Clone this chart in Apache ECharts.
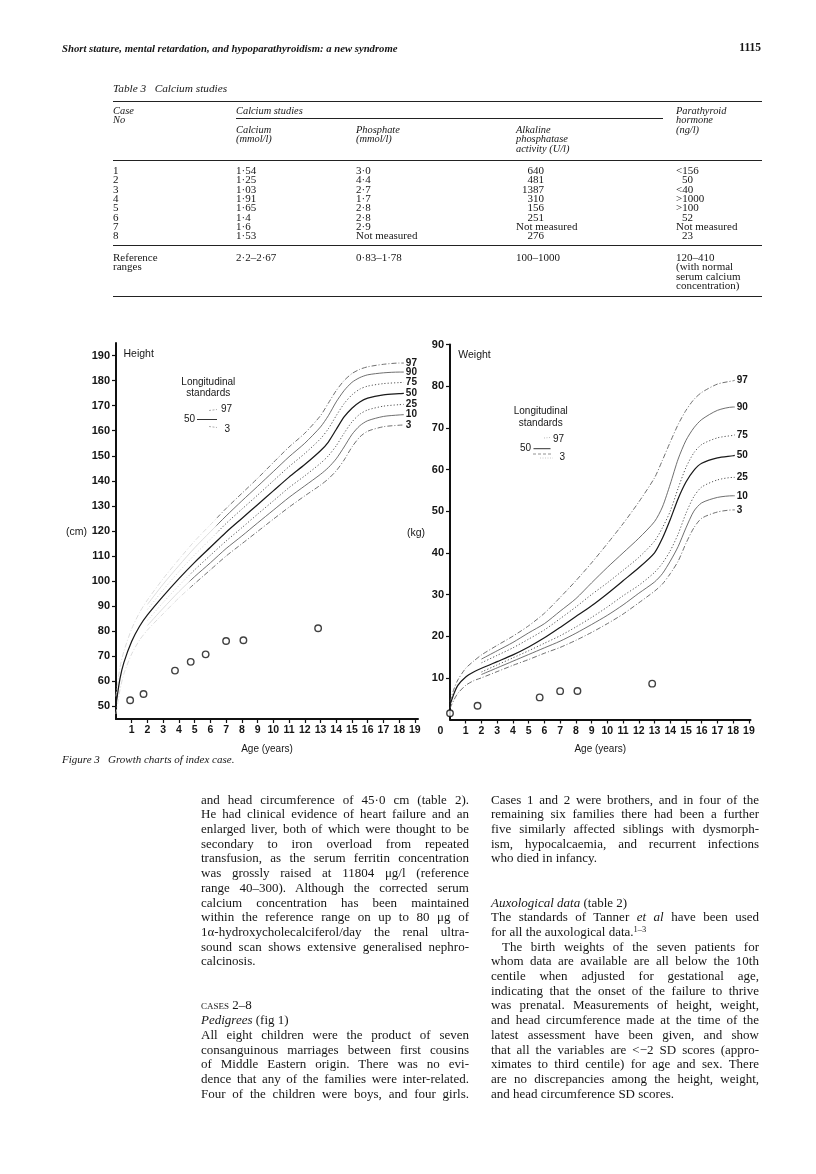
<!DOCTYPE html>
<html><head><meta charset="utf-8"><title>Growth charts of index case</title>
<script src="https://cdn.jsdelivr.net/npm/echarts@6.0.0/dist/echarts.min.js"></script>
<style>
html,body{margin:0;padding:0;background:#fff;}
#page{position:relative;width:816px;height:1174px;overflow:hidden;background:#fff;color:#161616;font-family:"Liberation Serif","Times New Roman",serif;}
#chart{position:absolute;left:0;top:0;width:816px;height:1174px;}
.ln{position:absolute;white-space:nowrap;}
.t{position:absolute;white-space:nowrap;line-height:1;transform:translateY(-50%);}
.rule{position:absolute;height:0;border-top:1px solid #222;}
.sc{font-variant:small-caps;}
sup{font-size:65%;vertical-align:0;position:relative;top:-0.5em;}
</style></head>
<body><div id="page"><div id="chart"></div></div>
<script>
// ---------------- chart data ----------------
const centiles = ['97','90','75','50','25','10','3'];
const heightAges = [0,0.25,0.5,1,1.5,2,3,4,5,6,7,8,9,10,11,12,13,13.5,14,14.5,15,15.5,16,17,18,18.3];
const height97 = [54,65.5,72,81,87.5,92.5,101,108.7,116,122.5,129,135,141,147.3,153.5,159,166,171,176,180,182.8,184.5,185.5,186.5,187,187];
const height90 = [null,null,null,null,null,90.7,98.8,106.2,113.3,119.7,126,132,137.8,143.7,149.6,155,161.5,166,171.5,176,179.3,181.2,182.3,183.1,183.4,183.4];
const height75 = [null,null,null,null,null,88.7,96.5,103.8,110.5,116.7,123,128.7,134.3,140,145.7,150.9,156.8,160.8,166,170.8,174.3,176.6,177.8,178.8,179.2,179.3];
const height50 = [50.5,61,67.5,76,82,86.5,94,101,107.5,113.5,119.5,125,130.5,136,141.5,146.5,152,155.5,160.5,165.5,169,171.5,173,174.3,174.8,174.9];
const height25 = [null,null,null,null,null,84.3,91.5,98.2,104.5,110.3,116,121.3,126.7,132,137.3,142,147,150,154,159,163.5,166.6,168.3,169.8,170.4,170.5];
const height10 = [null,null,null,null,null,82.3,89.2,95.8,101.8,107.3,113,118,123.2,128.3,133.4,138,142.6,145.3,148.8,153.5,158.5,162,164,165.7,166.3,166.4];
const height3 = [47,56.5,63,71,76.5,80.5,87,93.3,99,104.5,110,114.9,119.8,124.7,129.5,134,138.3,140.8,144,148.3,153.5,157.5,159.8,161.6,162.2,162.3];

const weightAges = [0,0.25,0.5,1,1.5,2,3,4,5,6,7,8,9,10,11,12,13,13.5,14,14.5,15,15.5,16,17,18,18.1];
const weight97 = [4.3,7.3,9.5,12.3,14,15.5,17.8,20,22.5,25.5,29.3,33.3,37.6,42.2,47,52.2,58,62.2,66.6,70.8,74.2,76.8,78.5,80.5,81.3,81.4];
const weight90 = [null,null,null,null,null,14.5,16.5,18.5,20.8,23,26,29,32.8,36.5,40,43.5,47.5,51,56.5,62.5,67,70,72,74.2,75,75];
const weight75 = [null,null,null,null,null,13.6,15.4,17.2,19.3,21.5,24.2,27,30,32.8,35.8,38.9,42.8,46,50,55.5,60.5,64,66,67.6,68.2,68.3];
const weight50 = [3.5,6.2,8.2,10.2,11.4,12.3,13.9,15.5,17.4,19.6,22.1,24.7,27.3,30.2,33.3,36.4,40,43.5,48,53,57,59.8,61.5,62.8,63.3,63.4];
const weight25 = [null,null,null,null,null,11.4,13.1,14.8,16.5,18.3,20.1,22.2,24.5,27,29.7,32.2,35.3,37.5,40.5,44.5,49.5,53.5,55.8,57.5,58.1,58.1];
const weight10 = [null,null,null,null,null,10.8,12.4,14,15.6,17.2,18.8,20.7,22.8,25,27.5,30.3,33,35,38,41.5,46,50,52,53.3,53.7,53.7];
const weight3 = [2.7,4.7,6.3,8.2,9.3,10,11.5,13,14.4,15.9,17.3,19,20.9,23,25.3,28,30.8,32.5,35,38,42.3,46,48.3,49.8,50.3,50.3];

const patientHeightAges = [0.9,1.75,3.75,4.75,5.7,7.0,8.1,12.85];
const patientHeights = [52.5,55.0,64.3,67.8,70.8,76.1,76.4,81.2];
const patientWeightAges = [0,1.75,5.7,7.0,8.1,12.85];
const patientWeights = [1.5,3.3,5.3,6.8,6.85,8.6];

const heightTicks = [50,60,70,80,90,100,110,120,130,140,150,160,170,180,190];
const weightTicks = [10,20,30,40,50,60,70,80,90];
const ageTicks = [1,2,3,4,5,6,7,8,9,10,11,12,13,14,15,16,17,18,19];
const weightAgeLabels = [0,1,2,3,4,5,6,7,8,9,10,11,12,13,14,15,16,17,18,19];

// ---------------- table data ----------------
const caseNos = ['1','2','3','4','5','6','7','8'];
const calciumVals = ['1·54','1·25','1·03','1·91','1·65','1·4','1·6','1·53'];
const phosphateVals = ['3·0','4·4','2·7','1·7','2·8','2·8','2·9','Not measured'];
const alkalineVals = ['640','481','1387','310','156','251','Not measured','276'];
const pthVals = ['<156','50','<40','>1000','>100','52','Not measured','23'];
const referenceRanges = ['2·2–2·67','0·83–1·78','100–1000'];
const pthReference = ['120–410','(with normal','serum calcium','concentration)'];

// ---------------- body text ----------------
const leftLines = [
 ['and head circumference of 45·0 cm (table 2).',1],
 ['He had clinical evidence of heart failure and an',1],
 ['enlarged liver, both of which were thought to be',1],
 ['secondary to iron overload from repeated',1],
 ['transfusion, as the serum ferritin concentration',1],
 ['was grossly raised at 11804 μg/l (reference',1],
 ['range 40–300). Although the corrected serum',1],
 ['calcium concentration has been maintained',1],
 ['within the reference range on up to 80 μg of',1],
 ['1α-hydroxycholecalciferol/day the renal ultra-',1],
 ['sound scan shows extensive generalised nephro-',1],
 ['calcinosis.',0],
 null,null,
 ['<span class="sc">cases</span> 2–8',0],
 ['<i>Pedigrees</i> (fig 1)',0],
 ['All eight children were the product of seven',1],
 ['consanguinous marriages between first cousins',1],
 ['of Middle Eastern origin. There was no evi-',1],
 ['dence that any of the families were inter-related.',1],
 ['Four of the children were boys, and four girls.',1]
];
const rightLines = [
 ['Cases 1 and 2 were brothers, and in four of the',1],
 ['remaining six families there had been a further',1],
 ['five similarly affected siblings with dysmorph-',1],
 ['ism, hypocalcaemia, and recurrent infections',1],
 ['who died in infancy.',0],
 null,null,
 ['<i>Auxological data</i> (table 2)',0],
 ['The standards of Tanner <i>et al</i> have been used',1],
 ['for all the auxological data.<sup>1–3</sup>',0],
 ['The birth weights of the seven patients for',1,11],
 ['whom data are available are all below the 10th',1],
 ['centile when adjusted for gestational age,',1],
 ['indicating that the onset of the failure to thrive',1],
 ['was prenatal. Measurements of height, weight,',1],
 ['and head circumference made at the time of the',1],
 ['latest assessment have been given, and show',1],
 ['that all the variables are &lt;−2 SD scores (appro-',1],
 ['ximates to third centile) for age and sex. There',1],
 ['are no discrepancies among the height, weight,',1],
 ['and head circumference SD scores.',0]
];

const page = document.getElementById('page');
function txt(html, x, y, css, align){
  const d = document.createElement('div');
  d.className = 't';
  d.innerHTML = html;
  d.style.cssText = 'left:'+x+'px;top:'+y+'px;'+(css||'');
  if (align === 'right') d.style.transform = 'translate(-100%,-50%)';
  page.appendChild(d);
  return d;
}
function rule(x1, x2, y, w){
  const d = document.createElement('div');
  d.className = 'rule';
  d.style.cssText = 'left:'+x1+'px;width:'+(x2-x1)+'px;top:'+y+'px;border-top-width:'+(w||1)+'px;';
  page.appendChild(d);
}
function placeLines(lines, x, y0, w, lh, fs){
  lines.forEach((ln, i) => {
    if (!ln) return;
    const ind = ln[2] || 0;
    const d = document.createElement('div');
    d.className = 'ln';
    d.style.cssText = 'left:'+(x+ind)+'px;top:'+(y0+i*lh)+'px;font-size:'+fs+'px;line-height:'+lh+'px;';
    d.innerHTML = ln[0];
    page.appendChild(d);
    if (ln[1]) {
      const target = w - ind;
      const nat = d.getBoundingClientRect().width;
      const n = (d.textContent.match(/ /g) || []).length;
      if (nat < target && n > 0) d.style.wordSpacing = ((target - nat) / n) + 'px';
      else if (nat > target) { d.style.transformOrigin = '0 0'; d.style.transform = 'scaleX(' + (target / nat) + ')'; }
    }
  });
}

// header
txt('<i><b>Short stature, mental retardation, and hypoparathyroidism: a new syndrome</b></i>', 62, 47.5, 'font-size:10.7px;');
txt('1115', 761, 47.5, 'font-size:11.5px;font-weight:bold;', 'right');

// table
const TL = 113, TR = 762;
const cCase = 113, cCa = 236, cPh = 356, cAlk = 516, cAlkR = 544, cPth = 676;
const tfs = 'font-size:11px;';
const tfi = 'font-size:10.4px;font-style:italic;';
txt('<i>Table 3&nbsp;&nbsp; Calcium studies</i>', TL, 89, 'font-size:11.3px;');
rule(TL, TR, 100.5, 1.3);
txt('Case', cCase, 111, tfi); txt('No', cCase, 120, tfi);
txt('Calcium studies', cCa, 111, tfi);
rule(cCa, 663, 117.5, 0.8);
txt('Parathyroid', cPth, 111, tfi); txt('hormone', cPth, 120, tfi); txt('(ng/l)', cPth, 129.5, tfi);
txt('Calcium', cCa, 130, tfi); txt('(mmol/l)', cCa, 139, tfi);
txt('Phosphate', cPh, 130, tfi); txt('(mmol/l)', cPh, 139, tfi);
txt('Alkaline', cAlk, 130, tfi); txt('phosphatase', cAlk, 139, tfi); txt('activity (U/l)', cAlk, 148.5, tfi);
rule(TL, TR, 159.5, 1);
const rowY0 = 170, rowDy = 9.3;
caseNos.forEach((c, i) => {
  const y = rowY0 + i * rowDy;
  txt(c, cCase, y, tfs);
  txt(calciumVals[i], cCa, y, tfs);
  txt(phosphateVals[i], cPh, y, tfs);
  const a = alkalineVals[i];
  if (/^\d+$/.test(a)) txt(a, cAlkR, y, tfs, 'right'); else txt(a, cAlk, y, tfs);
  const p = pthVals[i];
  txt(p, /^\d+$/.test(p) ? cPth + 6 : cPth, y, tfs);
});
rule(TL, TR, 245, 1);
const refY = 256.5;
txt('Reference', cCase, refY, tfs); txt('ranges', cCase, refY + 9.5, tfs);
txt(referenceRanges[0], cCa, refY, tfs);
txt(referenceRanges[1], cPh, refY, tfs);
txt(referenceRanges[2], cAlk, refY, tfs);
pthReference.forEach((s, i) => txt(s, cPth, refY + i * 9.5, tfs));
rule(TL, TR, 296, 1.3);

// caption
txt('<i>Figure 3&nbsp;&nbsp; Growth charts of index case.</i>', 62, 759, 'font-size:11px;');

// body text
placeLines(leftLines, 201, 792.6, 268, 14.7, 13);
placeLines(rightLines, 491, 792.6, 268, 14.7, 13);

// ---------------- chart ----------------
function pairs(xs, ys){ const out = []; xs.forEach((x, i) => { if (ys[i] !== null) out.push([x, ys[i]]); }); return out; }
const SANS = '"Liberation Sans", Arial, Helvetica, sans-serif';
const INK = '#161616';
// faint early parts of the height centiles (the scan is pale there)
function fadeTo(colorDark, fadeAge){
  const x0 = 116, x1 = 418, f = fadeAge / 19.2;
  return {type:'linear', x:x0, y:0, x2:x1, y2:0, global:true, colorStops:[
    {offset:0, color:'#d6d6d6'}, {offset:f, color:'#d6d6d6'}, {offset:Math.min(1, f + 0.01), color:colorDark}, {offset:1, color:colorDark}]};
}
const styleFor = {
  '97': {type:[5,2,1,2], width:0.85, color:'#555'},
  '90': {type:'solid', width:0.85, color:'#555'},
  '75': {type:[1.2,2], width:1, color:'#555'},
  '50': {type:'solid', width:1.25, color:'#1a1a1a'},
  '25': {type:[1.2,2], width:1, color:'#555'},
  '10': {type:'solid', width:0.85, color:'#555'},
  '3':  {type:[5,2,1,2], width:0.85, color:'#555'}
};
const heightFade = {'97':6.3,'90':6.3,'75':6.3,'25':4.6,'10':4.6,'3':4.6};
const heightData = [height97,height90,height75,height50,height25,height10,height3];
const weightData = [weight97,weight90,weight75,weight50,weight25,weight10,weight3];
function centileSeries(name, data, ages, gi){
  const ls = Object.assign({}, styleFor[name]);
  if (gi === 0 && heightFade[name]) ls.color = fadeTo(ls.color, heightFade[name]);
  return {
    type:'line', name:name, xAxisIndex:gi, yAxisIndex:gi,
    data:pairs(ages, data), showSymbol:false, symbol:'none', smooth:0.25,
    lineStyle:ls, itemStyle:{color:styleFor[name].color},
    silent:true, z:2,
    endLabel:{show:true, formatter:name, fontFamily:SANS, fontSize:10, fontWeight:'bold', color:INK, distance:2}
  };
}
const series = [];
centiles.forEach((c, i) => series.push(centileSeries(c, heightData[i], heightAges, 0)));
series.push({type:'scatter', xAxisIndex:0, yAxisIndex:0, data:pairs(patientHeightAges, patientHeights),
  symbol:'circle', symbolSize:6.5, itemStyle:{color:'#fff', borderColor:'#111', borderWidth:1.4}, z:5});
centiles.forEach((c, i) => series.push(centileSeries(c, weightData[i], weightAges, 1)));
series.push({type:'scatter', xAxisIndex:1, yAxisIndex:1, data:pairs(patientWeightAges, patientWeights),
  symbol:'circle', symbolSize:6.5, itemStyle:{color:'#fff', borderColor:'#111', borderWidth:1.4}, z:5});

const axisLabelBase = {fontFamily:SANS, fontWeight:'bold', color:INK};
function xAxisCfg(gi, max, labels){
  return {
    type:'value', gridIndex:gi, min:0, max:max,
    axisLine:{show:true, onZero:false, lineStyle:{color:'#111', width:2}},
    axisTick:{show:true, customValues:ageTicks, length:4, lineStyle:{color:'#111', width:1.2}},
    axisLabel:Object.assign({show:true, customValues:labels, fontSize:10.5, margin:6,
      formatter:v => (v === 0 ? '{z|0}' : String(v)),
      rich:{z:{fontFamily:SANS, fontWeight:'bold', fontSize:10.5, color:INK, padding:[0,19,0,0]}}}, axisLabelBase),
    splitLine:{show:false},
    name:'Age (years)', nameLocation:'middle', nameGap:25,
    nameTextStyle:{fontFamily:SANS, fontSize:10, color:INK}
  };
}
function yAxisCfg(gi, min, max, ticks){
  return {
    type:'value', gridIndex:gi, min:min, max:max,
    axisLine:{show:true, onZero:false, lineStyle:{color:'#111', width:2}},
    axisTick:{show:true, customValues:ticks, length:4, lineStyle:{color:'#111', width:1.2}},
    axisLabel:Object.assign({show:true, customValues:ticks, fontSize:11, margin:6}, axisLabelBase),
    splitLine:{show:false}
  };
}
const gText = (text, x, y, opt) => ({type:'text', x:x, y:y, silent:true,
  style:Object.assign({text:text, fill:INK, font:'10px ' + SANS, textVerticalAlign:'middle', textAlign:'left'}, opt || {})});
const gLine = (x1, y1, x2, y2, opt) => ({type:'line', silent:true, shape:{x1:x1, y1:y1, x2:x2, y2:y2},
  style:Object.assign({stroke:'#333', lineWidth:1}, opt || {})});

const option = {
  animation:false,
  backgroundColor:'transparent',
  grid:[
    {left:116, top:343, width:302, height:376, containLabel:false, outerBoundsMode:'none'},
    {left:450, top:344.5, width:300.5, height:375, containLabel:false, outerBoundsMode:'none'}
  ],
  xAxis:[xAxisCfg(0, 19.2, ageTicks), xAxisCfg(1, 19.1, weightAgeLabels)],
  yAxis:[yAxisCfg(0, 45, 195, heightTicks), yAxisCfg(1, 0, 90, weightTicks)],
  series:series,
  graphic:[
    gText('Height', 123.5, 354, {font:'500 10.5px ' + SANS}),
    gText('(cm)', 66, 531.7, {font:'10.5px ' + SANS}),
    gText('Longitudinal', 208.3, 382.7, {textAlign:'center'}),
    gText('standards', 208.3, 393.5, {textAlign:'center'}),
    gText('97', 221, 409.5),
    gText('50', 195, 419.5, {textAlign:'right'}),
    gText('3', 224.5, 429.5),
    gLine(209, 410.5, 217, 409.5, {stroke:'#999', lineDash:[2,1.5], lineWidth:0.8}),
    gLine(197, 419.5, 217, 419.5, {stroke:'#333', lineWidth:1}),
    gLine(209, 426.5, 217, 427.5, {stroke:'#999', lineDash:[2,1.5], lineWidth:0.8}),

    gText('Weight', 458.3, 355, {font:'500 10.5px ' + SANS}),
    gText('(kg)', 407, 532.7, {font:'10.5px ' + SANS}),
    gText('Longitudinal', 540.7, 411.7, {textAlign:'center'}),
    gText('standards', 540.7, 423.3, {textAlign:'center'}),
    gText('97', 553, 439.3),
    gText('50', 531, 448.3, {textAlign:'right'}),
    gText('3', 559.5, 457.7),
    gLine(544, 438, 550, 437.5, {stroke:'#aaa', lineDash:[1,1.5], lineWidth:0.8}),
    gLine(533.5, 448.7, 550.5, 448.7, {stroke:'#333', lineWidth:1}),
    gLine(533, 454, 553, 454, {stroke:'#777', lineDash:[3,2], lineWidth:0.8}),
    gLine(540, 458, 553, 458, {stroke:'#bbb', lineDash:[1,1.5], lineWidth:0.8})
  ]
};
const chart = echarts.init(document.getElementById('chart'), null, {renderer:'canvas', width:816, height:1174});
chart.setOption(option);
</script>
</body></html>
